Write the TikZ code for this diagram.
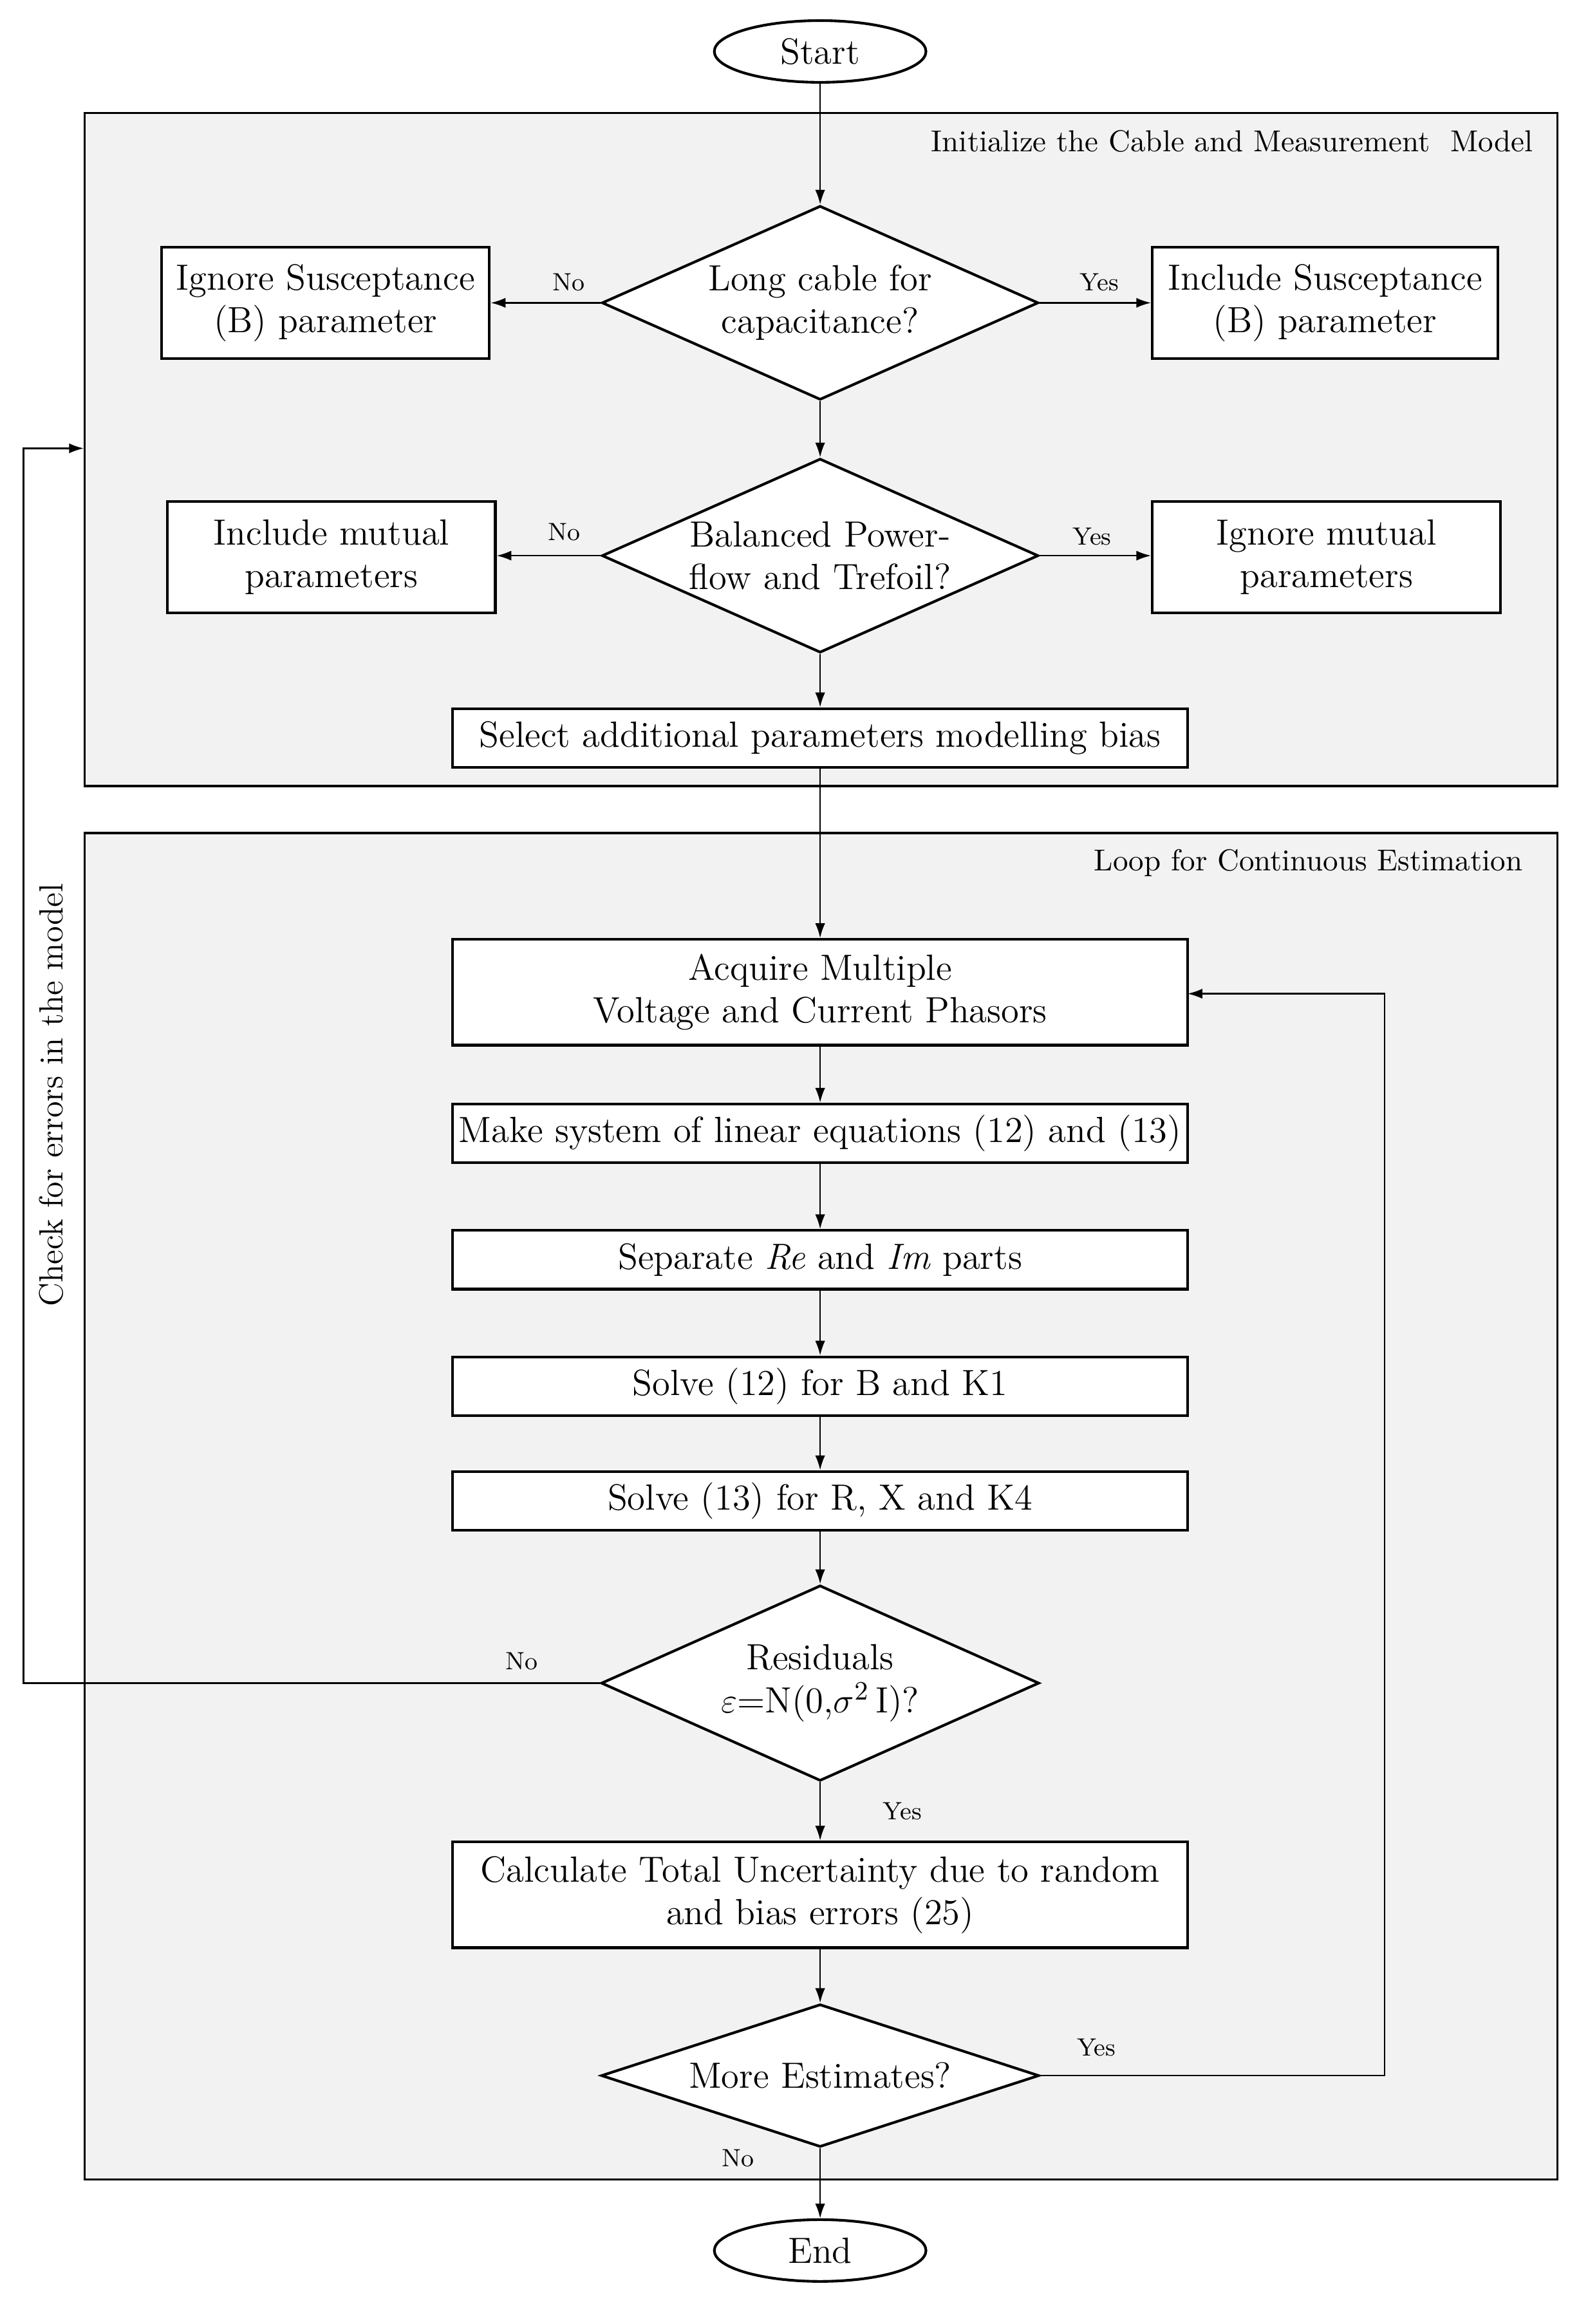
\documentclass[tikz,border=0pt]{standalone}
\usetikzlibrary{shapes.geometric,arrows.meta}
\definecolor{grpfill}{HTML}{F2F2F2}
\begin{document}
\begin{tikzpicture}[x=0.5pt,y=-0.5pt,
  every node/.style={font=\fontsize{12.4}{14.5}\selectfont},
  term/.style={ellipse,draw,line width=0.9pt,fill=white,minimum width=72pt,minimum height=21pt,inner sep=0pt},
  proc/.style={rectangle,draw,line width=0.9pt,fill=white,minimum width=250pt,inner sep=1pt,align=center},
  sidebox/.style={rectangle,draw,line width=0.9pt,fill=white,minimum height=38pt,inner sep=1pt,align=center},
  decide/.style={diamond,draw,line width=0.9pt,fill=white,aspect=2.25,inner sep=0pt,align=center},
  group/.style={rectangle,draw,line width=0.7pt,fill=grpfill,anchor=north west,inner sep=0pt},
  grptitle/.style={font=\fontsize{10.3}{12}\selectfont,anchor=east},
  lbl/.style={font=\fontsize{8.5}{10}\selectfont},
  conn/.style={line width=0.5pt,-{Latex[length=5pt,width=3.4pt]}},
  plain/.style={line width=0.5pt}
]
\useasboundingbox (0,0) rectangle (1080,1581);
% groups
\node[group,minimum width=501pt,minimum height=229pt] (g1) at (57,76) {};
\node[grptitle] (t1) at (1050,96) {Initialize the Cable and Measurement\ \ Model};
\node[group,minimum width=501pt,minimum height=458pt] (g2) at (57,566) {};
\node[grptitle] (t2) at (1043,587) {Loop for Continuous Estimation};

% nodes
\node[term] (start) at (558,35) {Start};
\node[decide,minimum width=148.5pt,minimum height=66pt] (d1) at (558,206) {Long cable for\\capacitance?};
\node[sidebox,minimum width=111.5pt] (b1l) at (221.5,206) {Ignore Susceptance\\(B) parameter};
\node[sidebox,minimum width=117.5pt] (b1r) at (901.5,206) {Include Susceptance\\(B) parameter};
\node[decide,minimum width=148.5pt,minimum height=66pt] (d2) at (558,378) {Balanced Power-\\flow and Trefoil?};
\node[sidebox,minimum width=111.5pt] (b2l) at (225.5,379) {Include mutual\\parameters};
\node[sidebox,minimum width=118.5pt] (b2r) at (902.5,379) {Ignore mutual\\parameters};
\node[proc,minimum height=20pt] (sel) at (558,502) {Select additional parameters modelling bias};

\node[proc,minimum height=36pt] (acq) at (558,675) {Acquire Multiple\\Voltage and Current Phasors};
\node[proc,minimum height=20pt] (mk) at (558,771) {Make system of linear equations (12) and (13)};
\node[proc,minimum height=20pt] (sep) at (558,857) {Separate \textit{Re} and \textit{Im} parts};
\node[proc,minimum height=20pt] (s12) at (558,943) {Solve (12) for B and K1};
\node[proc,minimum height=20pt] (s13) at (558,1021) {Solve (13) for R, X and K4};
\node[decide,minimum width=149pt,minimum height=66.5pt] (d3) at (558,1145) {Residuals\\$\varepsilon$=N(0,$\sigma^{2}$\,I)?};
\node[proc,minimum height=36pt] (calc) at (558,1289) {Calculate Total Uncertainty due to random\\and bias errors (25)};
\node[decide,minimum width=149pt,minimum height=43.5pt] (d4) at (558,1412) {More Estimates?};
\node[term] (end) at (558,1531) {End};

% coordinates for loops
\coordinate (lcorner1) at (16,1145);
\coordinate (lcorner2) at (16,305);
\coordinate (linto) at (57,305);
\coordinate (rcorner1) at (942,1412);
\coordinate (rcorner2) at (942,676);
\coordinate (rinto) at (808,676);

% connectors
\draw[conn] (start) -- (d1);
\draw[conn] (d1) -- (b1l);
\draw[conn] (d1) -- (b1r);
\draw[conn] (d1) -- (d2);
\draw[conn] (d2.west) -- (b2l.east |- d2.west);
\draw[conn] (d2.east) -- (b2r.west |- d2.east);
\draw[conn] (d2) -- (sel);
\draw[conn] (sel) -- (acq);
\draw[conn] (acq) -- (mk);
\draw[conn] (mk) -- (sep);
\draw[conn] (sep) -- (s12);
\draw[conn] (s12) -- (s13);
\draw[conn] (s13) -- (d3);
\draw[conn] (d3) -- (calc);
\draw[conn] (calc) -- (d4);
\draw[conn] (d4) -- (end);
\draw[conn] (d3.west) -- (lcorner1) -- (lcorner2) -- (linto);
\draw[conn] (d4.east) -- (rcorner1) -- (rcorner2) -- (rinto);

% labels
\node[lbl] (n1) at (387,192) {No};
\node[lbl] (y1) at (748,192) {Yes};
\node[lbl] (n2) at (384,362) {No};
\node[lbl] (y2) at (743,365) {Yes};
\node[lbl] (n3) at (355,1130) {No};
\node[lbl] (y3) at (614,1232) {Yes};
\node[lbl] (y4) at (746,1393) {Yes};
\node[lbl] (n4) at (502,1468) {No};
\node[rotate=90,font=\fontsize{11.4}{13}\selectfont] (chk) at (35,745) {Check for errors in the model};
\end{tikzpicture}
\end{document}
